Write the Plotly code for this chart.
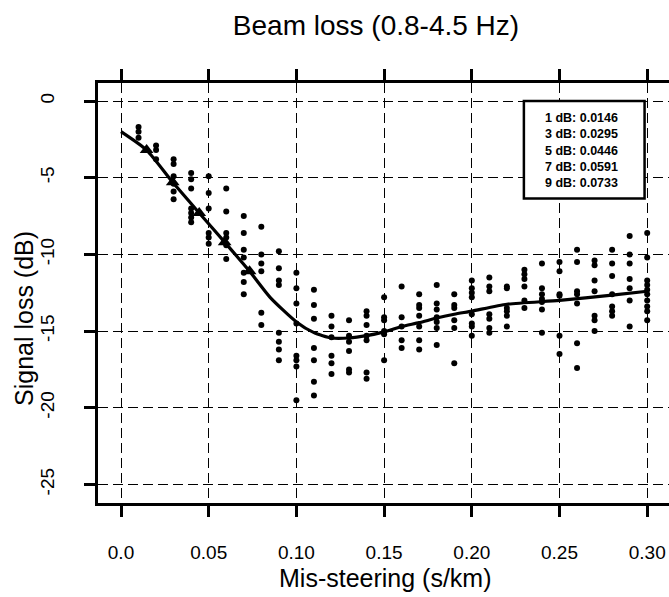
import plotly.graph_objects as go

# ---- data ----
col_x = [0.01, 0.02, 0.03, 0.04, 0.05, 0.06, 0.07, 0.08, 0.09, 0.10,
         0.11, 0.12, 0.13, 0.14, 0.15, 0.16, 0.17, 0.18, 0.19, 0.20,
         0.21, 0.22, 0.23, 0.24, 0.25, 0.26, 0.27, 0.28, 0.29, 0.30]
col_y = [
    [-1.7, -2.0, -2.4],
    [-2.9, -3.2, -3.8],
    [-3.8, -4.1, -4.9, -5.4, -5.9, -6.4],
    [-4.7, -5.1, -5.7, -7.0, -7.3, -7.6, -7.9],
    [-4.9, -6.0, -7.0, -8.6, -8.9, -9.3],
    [-5.7, -7.2, -8.6, -8.9, -9.4, -10.3],
    [-7.5, -8.6, -9.7, -10.2, -11.2, -11.8, -12.6],
    [-8.2, -10.0, -10.6, -11.1, -13.8, -14.6],
    [-9.8, -10.9, -11.7, -12.0, -15.1, -15.7, -16.2, -16.9],
    [-11.2, -12.2, -13.2, -14.5, -16.6, -16.9, -17.3, -19.5],
    [-12.3, -13.3, -14.2, -16.1, -16.9, -18.3, -19.2],
    [-14.0, -14.7, -15.4, -16.6, -17.1, -17.8],
    [-14.3, -15.3, -15.7, -16.3, -17.5, -17.7],
    [-13.7, -14.0, -14.6, -15.3, -15.6, -17.7, -18.1],
    [-12.8, -14.1, -14.3, -15.0, -15.2, -16.9],
    [-12.1, -14.1, -14.7, -15.6, -16.1],
    [-12.6, -13.3, -13.5, -14.0, -14.7, -15.6, -16.2],
    [-12.0, -13.2, -13.6, -14.1, -14.4, -14.8, -15.9],
    [-12.6, -13.3, -13.5, -14.3, -14.8, -17.1],
    [-11.7, -12.2, -12.5, -12.8, -13.9, -14.5, -14.7, -15.3],
    [-11.5, -12.1, -12.4, -13.9, -14.2, -14.8, -15.1],
    [-12.1, -12.2, -13.5, -13.7, -14.0, -14.7],
    [-11.0, -11.3, -11.6, -12.1, -13.0, -13.5],
    [-10.6, -12.2, -12.6, -12.9, -13.1, -13.6, -15.1],
    [-10.5, -11.1, -12.6, -12.7, -15.3, -16.5],
    [-9.7, -10.5, -12.4, -12.6, -13.2, -15.8, -17.4],
    [-10.4, -10.7, -11.7, -12.4, -14.0, -14.3, -15.0],
    [-9.7, -10.6, -11.4, -12.6, -13.4, -13.7, -14.0],
    [-8.8, -10.0, -10.6, -11.6, -12.2, -13.0, -14.7],
    [-8.6, -10.2, -11.7, -12.0, -12.3, -12.6, -13.0, -13.4, -13.7, -14.3],
]

curve_x = [0.0, 0.0146, 0.0295, 0.0446, 0.0591, 0.0733, 0.085, 0.100, 0.110,
           0.120, 0.130, 0.140, 0.150, 0.160, 0.170, 0.180, 0.190, 0.200,
           0.220, 0.250, 0.280, 0.300]
curve_y = [-2.0, -3.2, -5.3, -7.3, -9.2, -11.1, -12.8, -14.4, -15.1,
           -15.45, -15.45, -15.3, -15.05, -14.7, -14.45, -14.15, -13.9, -13.7,
           -13.25, -13.0, -12.65, -12.4]

loss_labels = ["1 dB", "3 dB", "5 dB", "7 dB", "9 dB"]
loss_x = [0.0146, 0.0295, 0.0446, 0.0591, 0.0733]
loss_y = [-3.2, -5.3, -7.3, -9.2, -11.1]

x_ticks = [0.0, 0.05, 0.10, 0.15, 0.20, 0.25, 0.30]
x_ticklabels = ["0.0", "0.05", "0.10", "0.15", "0.20", "0.25", "0.30"]
y_ticks = [0, -5, -10, -15, -20, -25]
y_ticklabels = ["0", "-5", "-10", "-15", "-20", "-25"]

# ---- figure ----
FONT = "Liberation Sans, Arial, Helvetica, sans-serif"
W, H = 669, 597
ML, MR, MT, MB = 98, 0, 83, 94
PW, PH = W - ML - MR, H - MT - MB


def px(xp):
    return (xp - ML) / PW


def py(yp):
    return (H - MB - yp) / PH


dots_x, dots_y = [], []
for cx, ys in zip(col_x, col_y):
    for yv in ys:
        dots_x.append(cx)
        dots_y.append(yv)

fig = go.Figure()
fig.add_trace(go.Scatter(x=dots_x, y=dots_y, mode="markers",
                         marker=dict(color="black", size=6, line=dict(width=0)),
                         hoverinfo="x+y"))
fig.add_trace(go.Scatter(x=curve_x, y=curve_y, mode="lines",
                         line=dict(color="black", width=3.2, shape="spline", smoothing=0.6)))
fig.add_trace(go.Scatter(x=loss_x, y=loss_y, mode="markers",
                         marker=dict(color="black", size=12, symbol="triangle-up")))

axis_common = dict(
    showline=True, linecolor="black", linewidth=3, mirror="ticks",
    ticks="outside", ticklen=11, tickwidth=2.5, tickcolor="black",
    showgrid=True, gridcolor="black", gridwidth=1, griddash="10px,5px",
    zeroline=False, automargin=False,
    tickfont=dict(family=FONT, size=19, color="black"),
)

fig.update_xaxes(range=[(ML - 121) / 1754, (W - MR - 121) / 1754],
                 tickvals=x_ticks, ticktext=x_ticklabels,
                 ticklabelstandoff=19, **axis_common)
fig.update_yaxes(range=[-(H - MB - 101) / 15.34, (101 - MT) / 15.34],
                 tickvals=y_ticks, ticktext=y_ticklabels, tickangle=-90,
                 ticklabelstandoff=22, **axis_common)

legend_text = "<br>".join(f"{l}: {v:.4f}" for l, v in zip(loss_labels, loss_x))

fig.update_layout(
    width=W, height=H, autosize=False, showlegend=False,
    margin=dict(l=ML, r=MR, t=MT, b=MB, pad=0, autoexpand=False),
    paper_bgcolor="white", plot_bgcolor="white",
    font=dict(family=FONT, color="black"),
    title=dict(text="Beam loss (0.8-4.5 Hz)", x=376 / W, xref="container",
               xanchor="center", y=1 - 25 / H, yref="container", yanchor="middle",
               font=dict(family=FONT, size=28, color="black")),
    shapes=[dict(type="rect", xref="x", yref="y",
                 x0=0.2297, x1=0.2985, y0=-6.35, y1=0.0,
                 line=dict(color="black", width=2.5), fillcolor="white", layer="above")],
    annotations=[
        dict(text=legend_text, xref="x", yref="y", x=0.2624, y=-3.2,
             xanchor="center", yanchor="middle", showarrow=False, align="center",
             font=dict(family=FONT, size=12.5, color="black", weight="bold")),
        dict(text="Mis-steering (s/km)", xref="paper", yref="paper", x=px(385), y=py(578),
             xanchor="center", yanchor="middle", showarrow=False,
             font=dict(family=FONT, size=25, color="black")),
        dict(text="Signal loss (dB)", xref="paper", yref="paper", x=px(24), y=py(319),
             xanchor="center", yanchor="middle", showarrow=False, textangle=-90,
             font=dict(family=FONT, size=25, color="black")),
    ],
)

fig.write_html("out.html")
